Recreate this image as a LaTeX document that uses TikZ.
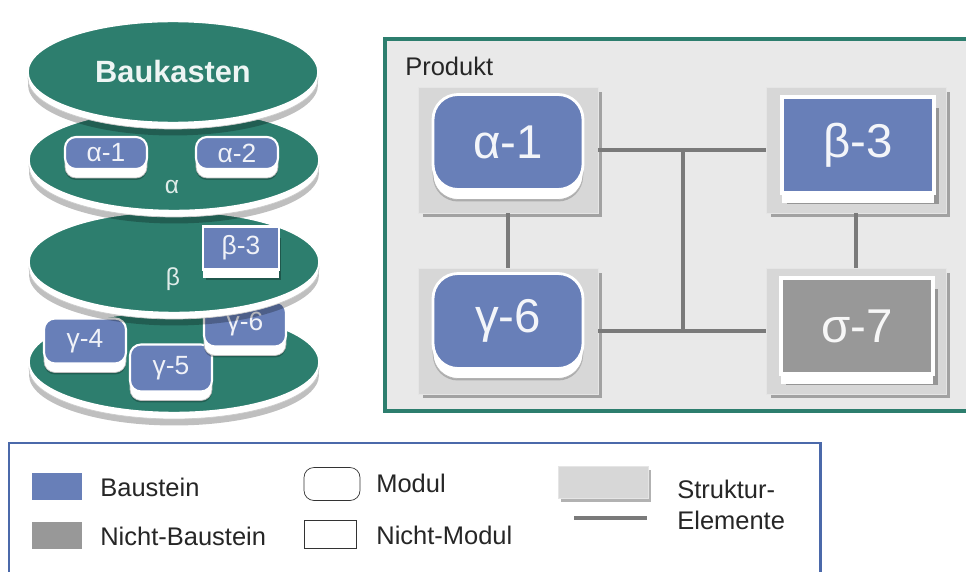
\documentclass[tikz,border=0pt]{standalone}
\usepackage{fontspec}
\setmainfont{Liberation Sans}
\usetikzlibrary{shapes.geometric,shadows}

\definecolor{layergreen}{RGB}{45,126,110}
\definecolor{bausteinblue}{RGB}{104,127,184}
\definecolor{nichtgray}{RGB}{152,152,152}
\definecolor{framegray}{RGB}{215,215,215}
\definecolor{panelgray}{RGB}{233,233,233}
\definecolor{linkgray}{RGB}{122,122,122}
\definecolor{legendblue}{RGB}{75,105,170}

\begin{document}
\begin{tikzpicture}[x=0.02cm, y=-0.02cm,
layer/.style = {ellipse, minimum width=5.8cm, minimum height=2.02cm, inner sep=0pt,
    fill=layergreen, draw=white, line width=0.8pt,
    general shadow={fill=black, opacity=0.25, shadow yshift=-0.26cm},
    general shadow={fill=white, draw=black!20, line width=0.4pt, shadow yshift=-0.13cm}},
layertext/.style = {text=white!85!layergreen, font=\fontsize{14}{16}\selectfont},
modsmall/.style = {rectangle, rounded corners=0.22cm, minimum width=1.64cm, minimum height=0.64cm,
    fill=bausteinblue, draw=white, line width=1.2pt, text=white!90!bausteinblue,
    font=\fontsize{15}{17}\selectfont,
    general shadow={fill=black, opacity=0.25, shadow yshift=-0.22cm},
    general shadow={fill=white, draw=black!25, line width=0.4pt, shadow yshift=-0.18cm}},
nmsmall/.style = {rectangle, minimum width=1.52cm, minimum height=0.86cm, fill=bausteinblue,
    draw=white, line width=1.6pt, text=white!90!bausteinblue, font=\fontsize{15}{17}\selectfont,
    general shadow={fill=black, opacity=0.3, shadow xshift=0.05cm, shadow yshift=-0.22cm},
    general shadow={fill=white, shadow yshift=-0.18cm}},
strukturbox/.style = {rectangle, minimum width=3.6cm, minimum height=2.52cm, fill=framegray,
    draw=black!10, drop shadow={fill=black, opacity=0.3, shadow xshift=0.09cm, shadow yshift=-0.09cm}},
modbig/.style = {rectangle, rounded corners=0.5cm, minimum width=3cm, minimum height=1.9cm,
    fill=bausteinblue, draw=white, line width=1.6pt, text=white!92!bausteinblue,
    font=\fontsize{27}{31}\selectfont,
    general shadow={fill=black, opacity=0.2, shadow yshift=-0.24cm},
    general shadow={fill=white, draw=black!30, line width=0.4pt, shadow yshift=-0.2cm}},
nmbig/.style = {rectangle, minimum width=3.04cm, minimum height=1.92cm, fill=#1,
    draw=white, line width=2.3pt, text=white!92!#1, font=\fontsize{27}{31}\selectfont,
    general shadow={fill=black, opacity=0.3, shadow xshift=0.1cm, shadow yshift=-0.22cm},
    general shadow={fill=white, shadow yshift=-0.2cm}},
strukturlink/.style = {draw=linkgray, line width=2.3pt},
legtext/.style = {anchor=west, inner sep=0pt, text=black!85, font=\fontsize{14.5}{18}\selectfont},
    ]
\useasboundingbox (0,0) rectangle (966,571);
\clip (0,0) rectangle (966,571);
\fill[white] (0,0) rectangle (966,571);

% Produkt
\draw[layergreen, line width=2.3pt, fill=panelgray] (385,39) rectangle (990,411);
\node[legtext] (produkt) at (405,66) {Produkt};

\node[strukturbox] (fa1) at (508,150) {};
\node[strukturbox] (fb3) at (856,150) {};
\node[strukturbox] (fg6) at (508,331) {};
\node[strukturbox] (fs7) at (856,331) {};

\coordinate (spine) at (683,0);
\draw[strukturlink] (fa1.east) -- (fb3.west);
\draw[strukturlink] (fg6.east) -- (fs7.west);
\draw[strukturlink] (spine |- fa1.east) -- (spine |- fg6.east);
\draw[strukturlink] (fa1.south) -- (fg6.north);
\draw[strukturlink] (fb3.south) -- (fs7.north);

\node[modbig] (a1) at (508,142) {α-1};
\node[modbig] (g6) at (508,321) {γ-6};
\node[nmbig=bausteinblue] (b3) at (858,145) {β-3};
\node[nmbig=nichtgray] (s7) at (857,326) {σ-7};

% Baukasten layers, bottom one first
\node[layer] (lgamma) at (174,362) {};
\node[modsmall, minimum height=0.9cm] (g4) at (85,341) {γ-4};
\node[modsmall, minimum height=0.94cm] (g5) at (171,368) {γ-5};
\node[modsmall, minimum height=0.9cm] (g6s) at (245,324) {γ-6};

\node[layer] (lbeta) at (174,262) {};
\node[layertext] (tbeta) at (173,279) {β};
\node[nmsmall] (b3s) at (241,248) {β-3};

\node[layer] (lalpha) at (174,160) {};
\node[layertext] (talpha) at (172,187) {α};
\node[modsmall] (a1s) at (106,153) {α-1};
\node[modsmall] (a2s) at (237,153) {α-2};

\node[layer, text=white!92!layergreen, font=\bfseries\fontsize{17.5}{20}\selectfont]
    (baukasten) at (173,72) {Baukasten};

% Legende
\draw[legendblue, line width=1.7pt, fill=white] (9,443) rectangle (820,620);
\node[fill=bausteinblue, minimum width=1cm, minimum height=0.54cm, inner sep=0pt] (lbau) at (57,486) {};
\node[legtext] (tbau) at (100,487) {Baustein};
\node[fill=nichtgray, minimum width=1cm, minimum height=0.54cm, inner sep=0pt] (lnb) at (57,535) {};
\node[legtext] (tnb) at (100,536) {Nicht-Baustein};
\node[draw=black!80, rounded corners=0.2cm, minimum width=1.12cm, minimum height=0.66cm] (lmod) at (332,484) {};
\node[legtext] (tmod) at (376,483) {Modul};
\node[draw=black!80, minimum width=1.04cm, minimum height=0.56cm] (lnm) at (330,534) {};
\node[legtext] (tnm) at (376,535) {Nicht-Modul};
\node[fill=framegray, draw=black!10, minimum width=1.8cm, minimum height=0.64cm,
    drop shadow={fill=black, opacity=0.3, shadow xshift=0.06cm, shadow yshift=-0.08cm}] (lstruk) at (603,482) {};
\coordinate (lstrukA) at (574,518);
\coordinate (lstrukB) at (647,518);
\draw[strukturlink] (lstrukA) -- (lstrukB);
\node[legtext, align=left] (tstruk) at (677,505) {Struktur-\\Elemente};

\end{tikzpicture}
\end{document}
